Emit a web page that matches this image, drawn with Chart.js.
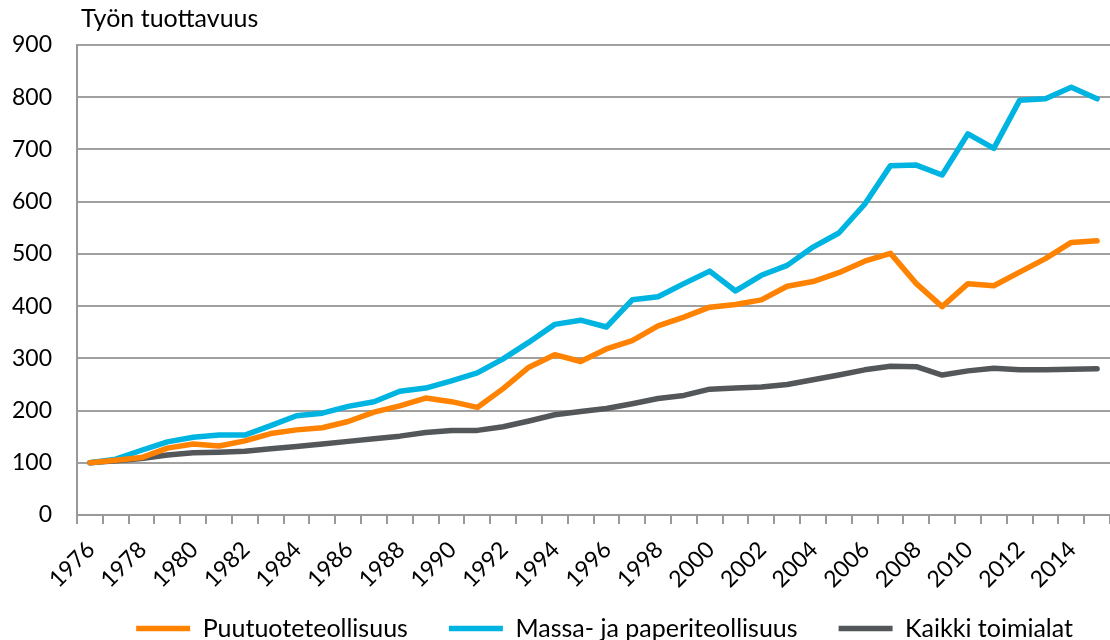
<!DOCTYPE html>
<html>
<head>
<meta charset="utf-8">
<script src="https://cdn.jsdelivr.net/npm/chart.js@4"></script>
<style>
  body { margin: 0; background: #fff; }
  #wrap { width: 1110px; height: 640px; position: relative; }
</style>
</head>
<body>
<div id="wrap"><canvas id="line-chart"></canvas></div>
<script>
const years = [];
for (let y = 1976; y <= 2015; y++) years.push(String(y));

const puutuote = [100, 105, 110, 128, 136, 132, 142, 156, 163, 167, 179, 197, 209, 224, 217,
    206, 242, 283, 307, 294, 318, 334, 362, 379, 398, 403, 412, 438, 447, 464,
    486, 501, 443, 399, 443, 439, 465, 491, 522, 525];
const massaPaperi = [100, 107, 124, 140, 149, 153, 153, 171, 190, 195, 208, 217, 237, 243, 257,
    272, 299, 331, 365, 373, 360, 412, 418, 443, 467, 429, 459, 478, 513, 540,
    595, 669, 670, 651, 730, 702, 794, 797, 819, 797];
const kaikki = [100, 104, 108, 115, 119, 120, 122, 127, 131, 136, 141, 146, 151, 158, 162,
    162, 169, 180, 192, 198, 204, 213, 223, 229, 241, 243, 245, 250, 259, 268,
    278, 285, 284, 268, 276, 281, 278, 278, 279, 280];

const font = 'Lato, "Noto Sans", sans-serif';

// y-axis caption drawn above the plot, next to the axis
const titlePlugin = {
    id: 'yTitle',
    afterDraw(chart) {
        const ctx = chart.ctx;
        ctx.save();
        ctx.font = '25px ' + font;
        ctx.fillStyle = '#000';
        ctx.textBaseline = 'middle';
        ctx.fillText('Työn tuottavuus', chart.chartArea.left + 4, 19);
        ctx.restore();
    }
};

const lineChartElement = document.getElementById('line-chart').getContext('2d');
const lineChart = new Chart(lineChartElement, {
    type: 'line',
    data: {
        labels: years,
        datasets: [{
            label: 'Puutuoteteollisuus',
            data: puutuote,
            borderColor: 'rgb(255, 130, 0)',
            backgroundColor: 'rgb(255, 130, 0)',
            borderWidth: 5.5
        }, {
            label: 'Massa- ja paperiteollisuus',
            data: massaPaperi,
            borderColor: 'rgb(0, 180, 226)',
            backgroundColor: 'rgb(0, 180, 226)',
            borderWidth: 5.5
        }, {
            label: 'Kaikki toimialat',
            data: kaikki,
            borderColor: 'rgb(84, 87, 90)',
            backgroundColor: 'rgb(84, 87, 90)',
            borderWidth: 5.5
        }]
    },
    options: {
        responsive: true,
        maintainAspectRatio: false,
        animation: false,
        elements: {
            line: { tension: 0, borderCapStyle: 'round', borderJoinStyle: 'round' },
            point: { radius: 0 }
        },
        layout: { autoPadding: false, padding: { top: 45, right: -4, left: -13, bottom: -11 } },
        scales: {
            x: {
                offset: true,
                grid: { offset: true, drawOnChartArea: false, color: '#999', lineWidth: 2, tickLength: 9 },
                border: { color: '#999', width: 2 },
                ticks: {
                    autoSkip: false,
                    minRotation: 45,
                    maxRotation: 45,
                    color: '#000',
                    font: { family: font, size: 23 },
                    padding: 12,
                    labelOffset: 1,
                    callback: function (value, index) {
                        return index % 2 === 0 ? this.getLabelForValue(value) : '';
                    }
                },
                // keep the axis box short so the legend sits close, and let the labels overhang it
                afterFit: function (scale) {
                    scale.height = 60;
                    scale.paddingLeft = 0;
                    scale.paddingRight = 0;
                    scale._computeLabelArea = () => undefined;
                }
            },
            y: {
                min: 0,
                max: 900,
                ticks: {
                    stepSize: 100,
                    color: '#000',
                    font: { family: font, size: 23 },
                    padding: 25
                },
                grid: { color: '#a0a0a0', lineWidth: 2, tickLength: 0 },
                border: { color: '#999', width: 2 }
            }
        },
        plugins: {
            legend: {
                position: 'bottom',
                align: 'end',
                labels: {
                    usePointStyle: true,
                    pointStyle: 'line',
                    pointStyleWidth: 54,
                    color: '#000',
                    font: { family: font, size: 25 },
                    padding: 41
                }
            },
            tooltip: { enabled: false }
        }
    },
    plugins: [titlePlugin]
});
</script>
</body>
</html>
